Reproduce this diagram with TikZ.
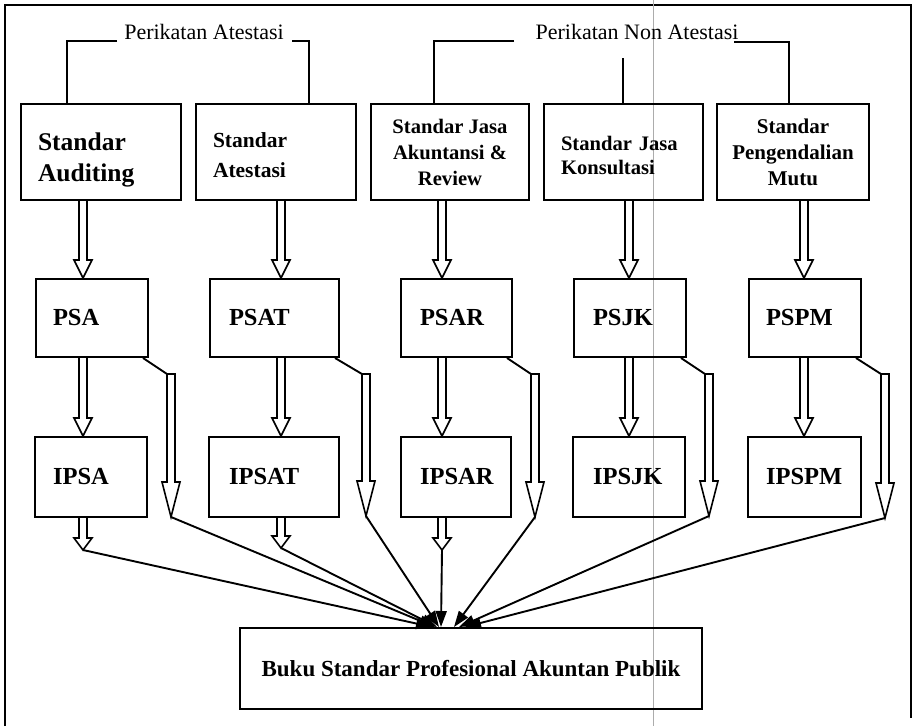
\documentclass[tikz,border=0pt]{standalone}
\usepackage{fontspec}
\setmainfont{Liberation Serif}
\usetikzlibrary{arrows.meta,calc}
\begin{document}
\begin{tikzpicture}[x=1pt,y=-1pt,
  box/.style={draw, line width=2pt, inner ysep=0pt, font=\bfseries, align=left},
  cbox/.style={draw, line width=2pt, inner sep=0pt, font=\bfseries, align=center},
  rowtwo/.style={box, minimum height=78pt, font=\bfseries\fontsize{24.5}{28}\selectfont},
  rowthree/.style={box, minimum height=80pt, font=\bfseries\fontsize{24.5}{28}\selectfont},
  lbl/.style={font=\fontsize{22}{26}\selectfont, inner sep=0pt, anchor=base},
  conn/.style={line width=1.9pt},
  hollowa/.style={line width=1.6pt, to path={let \p1=(\tikztostart), \p2=(\tikztotarget) in
     ({\x1-4pt},\y1) -- ({\x1-4pt},{\y2+#1}) -- ({\x1-9pt},{\y2+#1}) -- (\x1,\y2)
     -- ({\x1+9pt},{\y2+#1}) -- ({\x1+4pt},{\y2+#1}) -- ({\x1+4pt},\y1)}},
  hollowc/.style={line width=1.6pt, to path={let \p1=(\tikztostart), \p2=(\tikztotarget) in
     ({\x1-4pt},\y1) -- ({\x1-4pt},{\y2+#1}) -- ({\x1-9pt},{\y2+#1}) -- (\x1,\y2)
     -- ({\x1+9pt},{\y2+#1}) -- ({\x1+4pt},{\y2+#1}) -- ({\x1+4pt},\y1) -- cycle}},
  solidarr/.style={line width=1.9pt, -{Triangle[length=16pt,width=11pt]}}
]
\useasboundingbox (0,0) rectangle (916,726);
% frame
\draw[line width=1.9pt] (5,726) -- (5,5) -- (911,5) -- (911,718);
% scan line
\draw[gray!65, line width=0.7pt] (653,0) -- (653,726);

% top labels
\node[lbl] (pa) at (204,39) {Perikatan Atestasi};
\node[lbl] (pna) at (637,39) {Perikatan Non Atestasi};

% top boxes
\node[box, text width=126pt, inner xsep=17pt, minimum height=96pt,
      font=\bfseries\fontsize{25.5}{31}\selectfont] (sa) at (101,152) {\rule{0pt}{34pt}Standar\\Auditing};
\node[box, text width=126pt, inner xsep=17pt, minimum height=96pt,
      font=\bfseries\fontsize{21.5}{30}\selectfont] (sb) at (276,152) {\rule{0pt}{21pt}Standar\\Atestasi};
\node[cbox, minimum width=158pt, minimum height=96pt,
      font=\bfseries\fontsize{20.6}{26}\selectfont] (sc) at (450,152) {Standar Jasa\\Akuntansi \&\\Review};
\node[box, text width=125pt, inner xsep=17pt, minimum height=96pt,
      font=\bfseries\fontsize{20.6}{24}\selectfont] (sd) at (623.5,152) {\rule{0pt}{20.5pt}Standar Jasa\\Konsultasi};
\node[cbox, minimum width=152pt, minimum height=96pt,
      font=\bfseries\fontsize{21}{26}\selectfont] (se) at (793,152) {Standar\\Pengendalian\\Mutu};

% brackets
\coordinate (pa1) at (117,41);
\coordinate (pa2) at (292,41);
\coordinate (pn1) at (514,41);
\coordinate (pn2) at (623,58);
\coordinate (pn3) at (734,42);
\draw[conn] (pa1) -| ($(sa.north west)+(47,0)$);
\draw[conn] (pa2) -| ($(sb.north east)+(-48,0)$);
\draw[conn] (pn1) -| ($(sc.north west)+(64,0)$);
\draw[conn] (pn2) -- (sd.north -| pn2);
\draw[conn] (pn3) -| ($(se.north east)+(-81,0)$);

% row 2
\node[rowtwo, text width=78pt, inner xsep=17pt] (psa) at (92,318) {PSA};
\node[rowtwo, text width=91pt, inner xsep=19pt] (psat) at (274.5,318) {PSAT};
\node[rowtwo, text width=73pt, inner xsep=19pt] (psar) at (456.5,318) {PSAR};
\node[rowtwo, text width=74pt, inner xsep=19pt] (psjk) at (630,318) {PSJK};
\node[rowtwo, text width=78pt, inner xsep=17pt] (pspm) at (805,318) {PSPM};

% row 3
\node[rowthree, text width=76pt, inner xsep=18pt] (ipsa) at (91,477) {IPSA};
\node[rowthree, text width=90pt, inner xsep=20pt] (ipsat) at (274,477) {IPSAT};
\node[rowthree, text width=72pt, inner xsep=19pt] (ipsar) at (456,477) {IPSAR};
\node[rowthree, text width=72pt, inner xsep=20pt] (ipsjk) at (629,477) {IPSJK};
\node[rowthree, text width=77pt, inner xsep=18pt] (ipspm) at (804.5,477) {IPSPM};

% bottom box
\node[cbox, minimum width=462pt, minimum height=81pt,
      font=\bfseries\fontsize{23}{26}\selectfont] (buku) at (471,668.5) {Buku Standar Profesional Akuntan Publik};

% column coordinates
\coordinate (c1) at (83,0);
\coordinate (c2) at (281,0);
\coordinate (c3) at (442,0);
\coordinate (c4) at (629,0);
\coordinate (c5) at (804,0);

% top -> row 2
\draw[hollowa=18pt] (sa.south -| c1) to (psa.north -| c1);
\draw[hollowa=18pt] (sb.south -| c2) to (psat.north -| c2);
\draw[hollowa=18pt] (sc.south -| c3) to (psar.north -| c3);
\draw[hollowa=18pt] (sd.south -| c4) to (psjk.north -| c4);
\draw[hollowa=18pt] (se.south -| c5) to (pspm.north -| c5);

% row 2 -> row 3
\draw[hollowa=18pt] (psa.south -| c1) to (ipsa.north -| c1);
\draw[hollowa=18pt] (psat.south -| c2) to (ipsat.north -| c2);
\draw[hollowa=18pt] (psar.south -| c3) to (ipsar.north -| c3);
\draw[hollowa=18pt] (psjk.south -| c4) to (ipsjk.north -| c4);
\draw[hollowa=18pt] (pspm.south -| c5) to (ipspm.north -| c5);

% side arrows
\coordinate (s1) at (171,374); \coordinate (t1) at (171,517);
\coordinate (s2) at (366,374); \coordinate (t2) at (366,516);
\coordinate (s3) at (535,374); \coordinate (t3) at (535,517);
\coordinate (s4) at (709,374); \coordinate (t4) at (709,516);
\coordinate (s5) at (885,374); \coordinate (t5) at (885,518);
\draw[conn] ([xshift=-6pt]psa.south east) -- ([xshift=-4pt]s1);
\draw[conn] ([xshift=-5pt]psat.south east) -- ([xshift=-4pt]s2);
\draw[conn] ([xshift=-6pt]psar.south east) -- ([xshift=-4pt]s3);
\draw[conn] ([xshift=-6pt]psjk.south east) -- ([xshift=-4pt]s4);
\draw[conn] ([xshift=-6pt]pspm.south east) -- ([xshift=-4pt]s5);
\draw[hollowc=35pt] (s1) to (t1);
\draw[hollowc=35pt] (s2) to (t2);
\draw[hollowc=35pt] (s3) to (t3);
\draw[hollowc=35pt] (s4) to (t4);
\draw[hollowc=35pt] (s5) to (t5);

% small arrows below row 3
\coordinate (b1) at (83,550);
\coordinate (b2) at (281,548);
\coordinate (b3) at (442,550);
\draw[hollowa=12pt] (ipsa.south -| c1) to (b1);
\draw[hollowa=12pt] (ipsat.south -| c2) to (b2);
\draw[hollowa=12pt] (ipsar.south -| c3) to (b3);

% converging arrows
\draw[solidarr] (b1) -- ($(buku.north west)+(193,0)$);
\draw[solidarr] (t1) -- ($(buku.north west)+(196,0)$);
\draw[solidarr] (b2) -- ($(buku.north west)+(198,0)$);
\draw[solidarr] (t2) -- ($(buku.north west)+(200,0)$);
\draw[solidarr] (b3) -- ($(buku.north west)+(202,0)$);
\draw[solidarr] (t3) -- ($(buku.north west)+(215,0)$);
\draw[solidarr] (t4) -- ($(buku.north west)+(220,0)$);
\draw[solidarr] (t5) -- ($(buku.north west)+(226,0)$);
\end{tikzpicture}
\end{document}
